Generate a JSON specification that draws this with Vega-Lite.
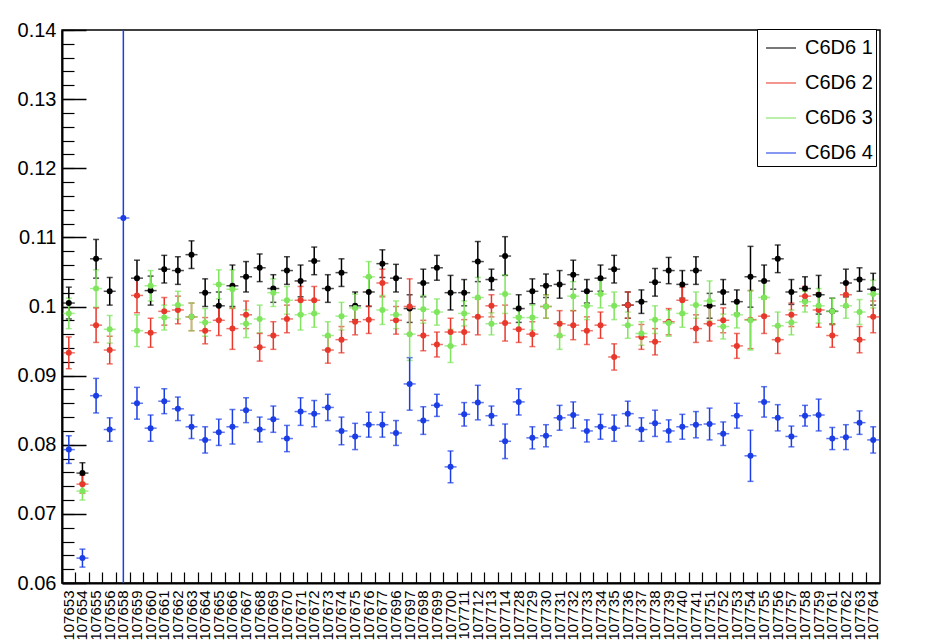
{
  "$schema": "https://vega.github.io/schema/vega-lite/v6.json",
  "width": 818,
  "height": 553,
  "autosize": {"type": "none"},
  "padding": {"left": 62, "top": 30, "right": 57, "bottom": 59},
  "background": "white",
  "config": {
    "font": "Liberation Sans",
    "view": {"stroke": "#000000", "strokeWidth": 1.5},
    "axis": {"title": null, "domainColor": "#000000", "labelColor": "#000000", "domainWidth": 1.5, "gridColor": "#000000", "gridOpacity": 1, "gridWidth": 1.2}
  },
  "data": {"values": [
    {"run":"107653","det":"C6D6 1","val":0.1005,"err":0.0023},{"run":"107653","det":"C6D6 2","val":0.0933,"err":0.0023},{"run":"107653","det":"C6D6 3","val":0.0990,"err":0.0022},{"run":"107653","det":"C6D6 4","val":0.0793,"err":0.0020},
    {"run":"107654","det":"C6D6 1","val":0.0759,"err":0.0015},{"run":"107654","det":"C6D6 2","val":0.0743,"err":0.0013},{"run":"107654","det":"C6D6 3","val":0.0733,"err":0.0013},{"run":"107654","det":"C6D6 4","val":0.0636,"err":0.0013},
    {"run":"107655","det":"C6D6 1","val":0.1069,"err":0.0028},{"run":"107655","det":"C6D6 2","val":0.0973,"err":0.0025},{"run":"107655","det":"C6D6 3","val":0.1026,"err":0.0027},{"run":"107655","det":"C6D6 4","val":0.0871,"err":0.0025},
    {"run":"107656","det":"C6D6 1","val":0.1022,"err":0.0020},{"run":"107656","det":"C6D6 2","val":0.0937,"err":0.0020},{"run":"107656","det":"C6D6 3","val":0.0967,"err":0.0020},{"run":"107656","det":"C6D6 4","val":0.0822,"err":0.0017},
    {"run":"107658","det":"C6D6 4","val":0.1128,"err":0.2},
    {"run":"107659","det":"C6D6 1","val":0.1041,"err":0.0026},{"run":"107659","det":"C6D6 2","val":0.1016,"err":0.0025},{"run":"107659","det":"C6D6 3","val":0.0965,"err":0.0023},{"run":"107659","det":"C6D6 4","val":0.0860,"err":0.0023},
    {"run":"107660","det":"C6D6 1","val":0.1023,"err":0.0021},{"run":"107660","det":"C6D6 2","val":0.0962,"err":0.0021},{"run":"107660","det":"C6D6 3","val":0.1030,"err":0.0022},{"run":"107660","det":"C6D6 4","val":0.0824,"err":0.0019},
    {"run":"107661","det":"C6D6 1","val":0.1054,"err":0.0020},{"run":"107661","det":"C6D6 2","val":0.0993,"err":0.0020},{"run":"107661","det":"C6D6 3","val":0.0984,"err":0.0018},{"run":"107661","det":"C6D6 4","val":0.0863,"err":0.0018},
    {"run":"107662","det":"C6D6 1","val":0.1052,"err":0.0020},{"run":"107662","det":"C6D6 2","val":0.0995,"err":0.0020},{"run":"107662","det":"C6D6 3","val":0.1002,"err":0.0020},{"run":"107662","det":"C6D6 4","val":0.0852,"err":0.0017},
    {"run":"107663","det":"C6D6 1","val":0.1075,"err":0.0020},{"run":"107663","det":"C6D6 2","val":0.0985,"err":0.0020},{"run":"107663","det":"C6D6 3","val":0.0985,"err":0.0020},{"run":"107663","det":"C6D6 4","val":0.0826,"err":0.0017},
    {"run":"107664","det":"C6D6 1","val":0.1020,"err":0.0020},{"run":"107664","det":"C6D6 2","val":0.0965,"err":0.0019},{"run":"107664","det":"C6D6 3","val":0.0977,"err":0.0020},{"run":"107664","det":"C6D6 4","val":0.0807,"err":0.0019},
    {"run":"107665","det":"C6D6 1","val":0.1001,"err":0.0020},{"run":"107665","det":"C6D6 2","val":0.0980,"err":0.0022},{"run":"107665","det":"C6D6 3","val":0.1032,"err":0.0021},{"run":"107665","det":"C6D6 4","val":0.0818,"err":0.0019},
    {"run":"107666","det":"C6D6 1","val":0.1030,"err":0.0030},{"run":"107666","det":"C6D6 2","val":0.0968,"err":0.0030},{"run":"107666","det":"C6D6 3","val":0.1025,"err":0.0028},{"run":"107666","det":"C6D6 4","val":0.0826,"err":0.0025},
    {"run":"107667","det":"C6D6 1","val":0.1043,"err":0.0022},{"run":"107667","det":"C6D6 2","val":0.0988,"err":0.0020},{"run":"107667","det":"C6D6 3","val":0.0975,"err":0.0020},{"run":"107667","det":"C6D6 4","val":0.0850,"err":0.0018},
    {"run":"107668","det":"C6D6 1","val":0.1056,"err":0.0020},{"run":"107668","det":"C6D6 2","val":0.0941,"err":0.0020},{"run":"107668","det":"C6D6 3","val":0.0982,"err":0.0020},{"run":"107668","det":"C6D6 4","val":0.0822,"err":0.0018},
    {"run":"107669","det":"C6D6 1","val":0.1026,"err":0.0020},{"run":"107669","det":"C6D6 2","val":0.0958,"err":0.0020},{"run":"107669","det":"C6D6 3","val":0.1020,"err":0.0020},{"run":"107669","det":"C6D6 4","val":0.0837,"err":0.0019},
    {"run":"107670","det":"C6D6 1","val":0.1052,"err":0.0020},{"run":"107670","det":"C6D6 2","val":0.0982,"err":0.0020},{"run":"107670","det":"C6D6 3","val":0.1009,"err":0.0020},{"run":"107670","det":"C6D6 4","val":0.0809,"err":0.0019},
    {"run":"107671","det":"C6D6 1","val":0.1037,"err":0.0023},{"run":"107671","det":"C6D6 2","val":0.1009,"err":0.0020},{"run":"107671","det":"C6D6 3","val":0.0988,"err":0.0022},{"run":"107671","det":"C6D6 4","val":0.0848,"err":0.0020},
    {"run":"107672","det":"C6D6 1","val":0.1066,"err":0.0020},{"run":"107672","det":"C6D6 2","val":0.1009,"err":0.0020},{"run":"107672","det":"C6D6 3","val":0.0990,"err":0.0020},{"run":"107672","det":"C6D6 4","val":0.0845,"err":0.0019},
    {"run":"107673","det":"C6D6 1","val":0.1026,"err":0.0020},{"run":"107673","det":"C6D6 2","val":0.0937,"err":0.0019},{"run":"107673","det":"C6D6 3","val":0.0958,"err":0.0020},{"run":"107673","det":"C6D6 4","val":0.0854,"err":0.0019},
    {"run":"107674","det":"C6D6 1","val":0.1049,"err":0.0020},{"run":"107674","det":"C6D6 2","val":0.0952,"err":0.0019},{"run":"107674","det":"C6D6 3","val":0.0986,"err":0.0020},{"run":"107674","det":"C6D6 4","val":0.0820,"err":0.0020},
    {"run":"107675","det":"C6D6 1","val":0.1001,"err":0.0020},{"run":"107675","det":"C6D6 2","val":0.0978,"err":0.0019},{"run":"107675","det":"C6D6 3","val":0.0998,"err":0.0020},{"run":"107675","det":"C6D6 4","val":0.0812,"err":0.0019},
    {"run":"107676","det":"C6D6 1","val":0.1021,"err":0.0021},{"run":"107676","det":"C6D6 2","val":0.0981,"err":0.0020},{"run":"107676","det":"C6D6 3","val":0.1043,"err":0.0022},{"run":"107676","det":"C6D6 4","val":0.0829,"err":0.0018},
    {"run":"107677","det":"C6D6 1","val":0.1062,"err":0.0020},{"run":"107677","det":"C6D6 2","val":0.1034,"err":0.0020},{"run":"107677","det":"C6D6 3","val":0.0995,"err":0.0021},{"run":"107677","det":"C6D6 4","val":0.0829,"err":0.0018},
    {"run":"107696","det":"C6D6 1","val":0.1041,"err":0.0020},{"run":"107696","det":"C6D6 2","val":0.0980,"err":0.0020},{"run":"107696","det":"C6D6 3","val":0.0988,"err":0.0020},{"run":"107696","det":"C6D6 4","val":0.0817,"err":0.0018},
    {"run":"107697","det":"C6D6 1","val":0.0997,"err":0.0020},{"run":"107697","det":"C6D6 2","val":0.1000,"err":0.0040},{"run":"107697","det":"C6D6 3","val":0.0960,"err":0.0038},{"run":"107697","det":"C6D6 4","val":0.0888,"err":0.0038},
    {"run":"107698","det":"C6D6 1","val":0.1034,"err":0.0020},{"run":"107698","det":"C6D6 2","val":0.0958,"err":0.0022},{"run":"107698","det":"C6D6 3","val":0.0996,"err":0.0020},{"run":"107698","det":"C6D6 4","val":0.0835,"err":0.0020},
    {"run":"107699","det":"C6D6 1","val":0.1056,"err":0.0018},{"run":"107699","det":"C6D6 2","val":0.0945,"err":0.0018},{"run":"107699","det":"C6D6 3","val":0.0992,"err":0.0019},{"run":"107699","det":"C6D6 4","val":0.0857,"err":0.0016},
    {"run":"107700","det":"C6D6 1","val":0.1020,"err":0.0025},{"run":"107700","det":"C6D6 2","val":0.0963,"err":0.0020},{"run":"107700","det":"C6D6 3","val":0.0943,"err":0.0024},{"run":"107700","det":"C6D6 4","val":0.0768,"err":0.0023},
    {"run":"107711","det":"C6D6 1","val":0.1020,"err":0.0019},{"run":"107711","det":"C6D6 2","val":0.0963,"err":0.0018},{"run":"107711","det":"C6D6 3","val":0.0990,"err":0.0018},{"run":"107711","det":"C6D6 4","val":0.0844,"err":0.0017},
    {"run":"107712","det":"C6D6 1","val":0.1065,"err":0.0029},{"run":"107712","det":"C6D6 2","val":0.0985,"err":0.0026},{"run":"107712","det":"C6D6 3","val":0.1013,"err":0.0029},{"run":"107712","det":"C6D6 4","val":0.0861,"err":0.0025},
    {"run":"107713","det":"C6D6 1","val":0.1039,"err":0.0015},{"run":"107713","det":"C6D6 2","val":0.1001,"err":0.0016},{"run":"107713","det":"C6D6 3","val":0.0975,"err":0.0016},{"run":"107713","det":"C6D6 4","val":0.0842,"err":0.0014},
    {"run":"107714","det":"C6D6 1","val":0.1073,"err":0.0028},{"run":"107714","det":"C6D6 2","val":0.0976,"err":0.0026},{"run":"107714","det":"C6D6 3","val":0.1018,"err":0.0028},{"run":"107714","det":"C6D6 4","val":0.0805,"err":0.0025},
    {"run":"107728","det":"C6D6 1","val":0.0997,"err":0.0020},{"run":"107728","det":"C6D6 2","val":0.0967,"err":0.0019},{"run":"107728","det":"C6D6 3","val":0.0984,"err":0.0016},{"run":"107728","det":"C6D6 4","val":0.0862,"err":0.0019},
    {"run":"107729","det":"C6D6 1","val":0.1022,"err":0.0018},{"run":"107729","det":"C6D6 2","val":0.0960,"err":0.0018},{"run":"107729","det":"C6D6 3","val":0.0984,"err":0.0018},{"run":"107729","det":"C6D6 4","val":0.0810,"err":0.0016},
    {"run":"107730","det":"C6D6 1","val":0.1030,"err":0.0017},{"run":"107730","det":"C6D6 2","val":0.1000,"err":0.0017},{"run":"107730","det":"C6D6 3","val":0.1000,"err":0.0017},{"run":"107730","det":"C6D6 4","val":0.0813,"err":0.0016},
    {"run":"107731","det":"C6D6 1","val":0.1032,"err":0.0020},{"run":"107731","det":"C6D6 2","val":0.0975,"err":0.0019},{"run":"107731","det":"C6D6 3","val":0.0958,"err":0.0020},{"run":"107731","det":"C6D6 4","val":0.0839,"err":0.0018},
    {"run":"107732","det":"C6D6 1","val":0.1046,"err":0.0021},{"run":"107732","det":"C6D6 2","val":0.0973,"err":0.0021},{"run":"107732","det":"C6D6 3","val":0.1015,"err":0.0021},{"run":"107732","det":"C6D6 4","val":0.0843,"err":0.0019},
    {"run":"107733","det":"C6D6 1","val":0.1022,"err":0.0017},{"run":"107733","det":"C6D6 2","val":0.0965,"err":0.0020},{"run":"107733","det":"C6D6 3","val":0.1001,"err":0.0020},{"run":"107733","det":"C6D6 4","val":0.0820,"err":0.0016},
    {"run":"107734","det":"C6D6 1","val":0.1041,"err":0.0019},{"run":"107734","det":"C6D6 2","val":0.0973,"err":0.0019},{"run":"107734","det":"C6D6 3","val":0.1018,"err":0.0020},{"run":"107734","det":"C6D6 4","val":0.0826,"err":0.0018},
    {"run":"107735","det":"C6D6 1","val":0.1054,"err":0.0020},{"run":"107735","det":"C6D6 2","val":0.0927,"err":0.0019},{"run":"107735","det":"C6D6 3","val":0.1001,"err":0.0020},{"run":"107735","det":"C6D6 4","val":0.0824,"err":0.0019},
    {"run":"107736","det":"C6D6 1","val":0.1002,"err":0.0019},{"run":"107736","det":"C6D6 2","val":0.1002,"err":0.0019},{"run":"107736","det":"C6D6 3","val":0.0973,"err":0.0019},{"run":"107736","det":"C6D6 4","val":0.0845,"err":0.0018},
    {"run":"107737","det":"C6D6 1","val":0.1007,"err":0.0017},{"run":"107737","det":"C6D6 2","val":0.0956,"err":0.0018},{"run":"107737","det":"C6D6 3","val":0.0961,"err":0.0017},{"run":"107737","det":"C6D6 4","val":0.0822,"err":0.0017},
    {"run":"107738","det":"C6D6 1","val":0.1035,"err":0.0020},{"run":"107738","det":"C6D6 2","val":0.0949,"err":0.0019},{"run":"107738","det":"C6D6 3","val":0.0981,"err":0.0020},{"run":"107738","det":"C6D6 4","val":0.0831,"err":0.0019},
    {"run":"107739","det":"C6D6 1","val":0.1052,"err":0.0019},{"run":"107739","det":"C6D6 2","val":0.0978,"err":0.0019},{"run":"107739","det":"C6D6 3","val":0.0976,"err":0.0019},{"run":"107739","det":"C6D6 4","val":0.0820,"err":0.0016},
    {"run":"107740","det":"C6D6 1","val":0.1032,"err":0.0020},{"run":"107740","det":"C6D6 2","val":0.1009,"err":0.0019},{"run":"107740","det":"C6D6 3","val":0.0990,"err":0.0020},{"run":"107740","det":"C6D6 4","val":0.0826,"err":0.0018},
    {"run":"107741","det":"C6D6 1","val":0.1052,"err":0.0020},{"run":"107741","det":"C6D6 2","val":0.0968,"err":0.0020},{"run":"107741","det":"C6D6 3","val":0.1002,"err":0.0019},{"run":"107741","det":"C6D6 4","val":0.0829,"err":0.0019},
    {"run":"107751","det":"C6D6 1","val":0.1001,"err":0.0018},{"run":"107751","det":"C6D6 2","val":0.0975,"err":0.0025},{"run":"107751","det":"C6D6 3","val":0.1008,"err":0.0029},{"run":"107751","det":"C6D6 4","val":0.0830,"err":0.0023},
    {"run":"107752","det":"C6D6 1","val":0.1021,"err":0.0018},{"run":"107752","det":"C6D6 2","val":0.0980,"err":0.0018},{"run":"107752","det":"C6D6 3","val":0.0971,"err":0.0018},{"run":"107752","det":"C6D6 4","val":0.0816,"err":0.0017},
    {"run":"107753","det":"C6D6 1","val":0.1007,"err":0.0017},{"run":"107753","det":"C6D6 2","val":0.0943,"err":0.0018},{"run":"107753","det":"C6D6 3","val":0.0988,"err":0.0019},{"run":"107753","det":"C6D6 4","val":0.0842,"err":0.0018},
    {"run":"107754","det":"C6D6 1","val":0.1043,"err":0.0044},{"run":"107754","det":"C6D6 2","val":0.0981,"err":0.0042},{"run":"107754","det":"C6D6 3","val":0.0980,"err":0.0043},{"run":"107754","det":"C6D6 4","val":0.0784,"err":0.0037},
    {"run":"107755","det":"C6D6 1","val":0.1037,"err":0.0023},{"run":"107755","det":"C6D6 2","val":0.0986,"err":0.0025},{"run":"107755","det":"C6D6 3","val":0.1013,"err":0.0025},{"run":"107755","det":"C6D6 4","val":0.0862,"err":0.0022},
    {"run":"107756","det":"C6D6 1","val":0.1069,"err":0.0020},{"run":"107756","det":"C6D6 2","val":0.0952,"err":0.0020},{"run":"107756","det":"C6D6 3","val":0.0972,"err":0.0020},{"run":"107756","det":"C6D6 4","val":0.0839,"err":0.0019},
    {"run":"107757","det":"C6D6 1","val":0.1021,"err":0.0018},{"run":"107757","det":"C6D6 2","val":0.0988,"err":0.0017},{"run":"107757","det":"C6D6 3","val":0.0977,"err":0.0018},{"run":"107757","det":"C6D6 4","val":0.0812,"err":0.0015},
    {"run":"107758","det":"C6D6 1","val":0.1026,"err":0.0017},{"run":"107758","det":"C6D6 2","val":0.1015,"err":0.0014},{"run":"107758","det":"C6D6 3","val":0.1007,"err":0.0015},{"run":"107758","det":"C6D6 4","val":0.0842,"err":0.0015},
    {"run":"107759","det":"C6D6 1","val":0.1017,"err":0.0028},{"run":"107759","det":"C6D6 2","val":0.0995,"err":0.0025},{"run":"107759","det":"C6D6 3","val":0.1001,"err":0.0025},{"run":"107759","det":"C6D6 4","val":0.0843,"err":0.0023},
    {"run":"107761","det":"C6D6 1","val":0.0993,"err":0.0019},{"run":"107761","det":"C6D6 2","val":0.0958,"err":0.0017},{"run":"107761","det":"C6D6 3","val":0.0993,"err":0.0019},{"run":"107761","det":"C6D6 4","val":0.0809,"err":0.0016},
    {"run":"107762","det":"C6D6 1","val":0.1034,"err":0.0020},{"run":"107762","det":"C6D6 2","val":0.1017,"err":0.0018},{"run":"107762","det":"C6D6 3","val":0.1001,"err":0.0018},{"run":"107762","det":"C6D6 4","val":0.0811,"err":0.0018},
    {"run":"107763","det":"C6D6 1","val":0.1039,"err":0.0017},{"run":"107763","det":"C6D6 2","val":0.0952,"err":0.0019},{"run":"107763","det":"C6D6 3","val":0.0992,"err":0.0018},{"run":"107763","det":"C6D6 4","val":0.0832,"err":0.0017},
    {"run":"107764","det":"C6D6 1","val":0.1025,"err":0.0023},{"run":"107764","det":"C6D6 2","val":0.0985,"err":0.0023},{"run":"107764","det":"C6D6 3","val":0.1018,"err":0.0020},{"run":"107764","det":"C6D6 4","val":0.0807,"err":0.0019}
  ]},
  "layer": [
    {
      "mark": {"type": "errorbar", "thickness": 1.5, "ticks": {"size": 6, "thickness": 1.5}, "clip": true},
      "encoding": {
        "x": {"field": "run", "type": "nominal", "sort": "ascending", "title": null, "scale": {"type": "band", "paddingInner": 0, "paddingOuter": 0},
              "axis": {"orient": "bottom", "title": null, "grid": false, "ticks": false, "tickSize": 0, "labelAngle": 270, "labelFontSize": 15, "labelPadding": 7, "domain": true, "domainWidth": 2, "labelOverlap": false, "labelBound": false}},
        "y": {"field": "val", "type": "quantitative", "title": null, "scale": {"domain": [0.06, 0.14], "nice": false, "zero": false},
              "axis": {"orient": "left", "title": null, "tickCount": 8, "format": "~g", "ticks": false, "tickSize": 0, "labelPadding": 6, "labelFontSize": 20, "labelOverlap": false, "domain": true, "domainWidth": 2,
                       "grid": true, "gridDash": [24, 2000], "gridWidth": 1.5}},
        "yError": {"field": "err"},
        "color": {"field": "det", "type": "nominal",
                  "scale": {"domain": ["C6D6 1", "C6D6 2", "C6D6 3", "C6D6 4"], "range": ["#000000", "#e8382b", "#7ee55c", "#1a3de6"]},
                  "legend": {"title": null, "symbolType": "stroke", "orient": "none", "legendX": 695, "legendY": -1, "fillColor": "white", "strokeColor": "black", "padding": 3, "symbolSize": 900, "symbolStrokeWidth": 1.5, "symbolOffset": 5, "labelFontSize": 20, "labelOffset": 8, "rowPadding": 9}}
      }
    },
    {
      "mark": {"type": "tick", "size": 12, "thickness": 1.5},
      "encoding": {
        "x": {"field": "run", "type": "nominal", "sort": "ascending", "title": null, "scale": {"type": "band", "paddingInner": 0, "paddingOuter": 0},
              "axis": {"orient": "bottom", "title": null, "bandPosition": 0, "labels": false, "domain": false, "ticks": false, "grid": true, "gridDash": [0, 542, 11, 2000], "gridWidth": 1.2}},
        "y": {"field": "val", "type": "quantitative", "title": null, "scale": {"domain": [0.06, 0.14], "nice": false, "zero": false},
              "axis": {"orient": "left", "title": null, "tickCount": 40, "labels": false, "domain": false, "ticks": false, "grid": true, "gridDash": [12, 2000], "gridWidth": 1.2}},
        "color": {"field": "det", "type": "nominal", "legend": null}
      }
    },
    {
      "mark": {"type": "point", "filled": true, "size": 36, "opacity": 1},
      "encoding": {
        "x": {"field": "run", "type": "nominal", "sort": "ascending", "scale": {"type": "band", "paddingInner": 0, "paddingOuter": 0}, "axis": null},
        "y": {"field": "val", "type": "quantitative", "scale": {"domain": [0.06, 0.14], "nice": false, "zero": false}, "axis": null},
        "color": {"field": "det", "type": "nominal", "legend": null}
      }
    }
  ],
  "resolve": {"scale": {"x": "independent", "y": "independent"}, "axis": {"x": "independent", "y": "independent"}}
}
